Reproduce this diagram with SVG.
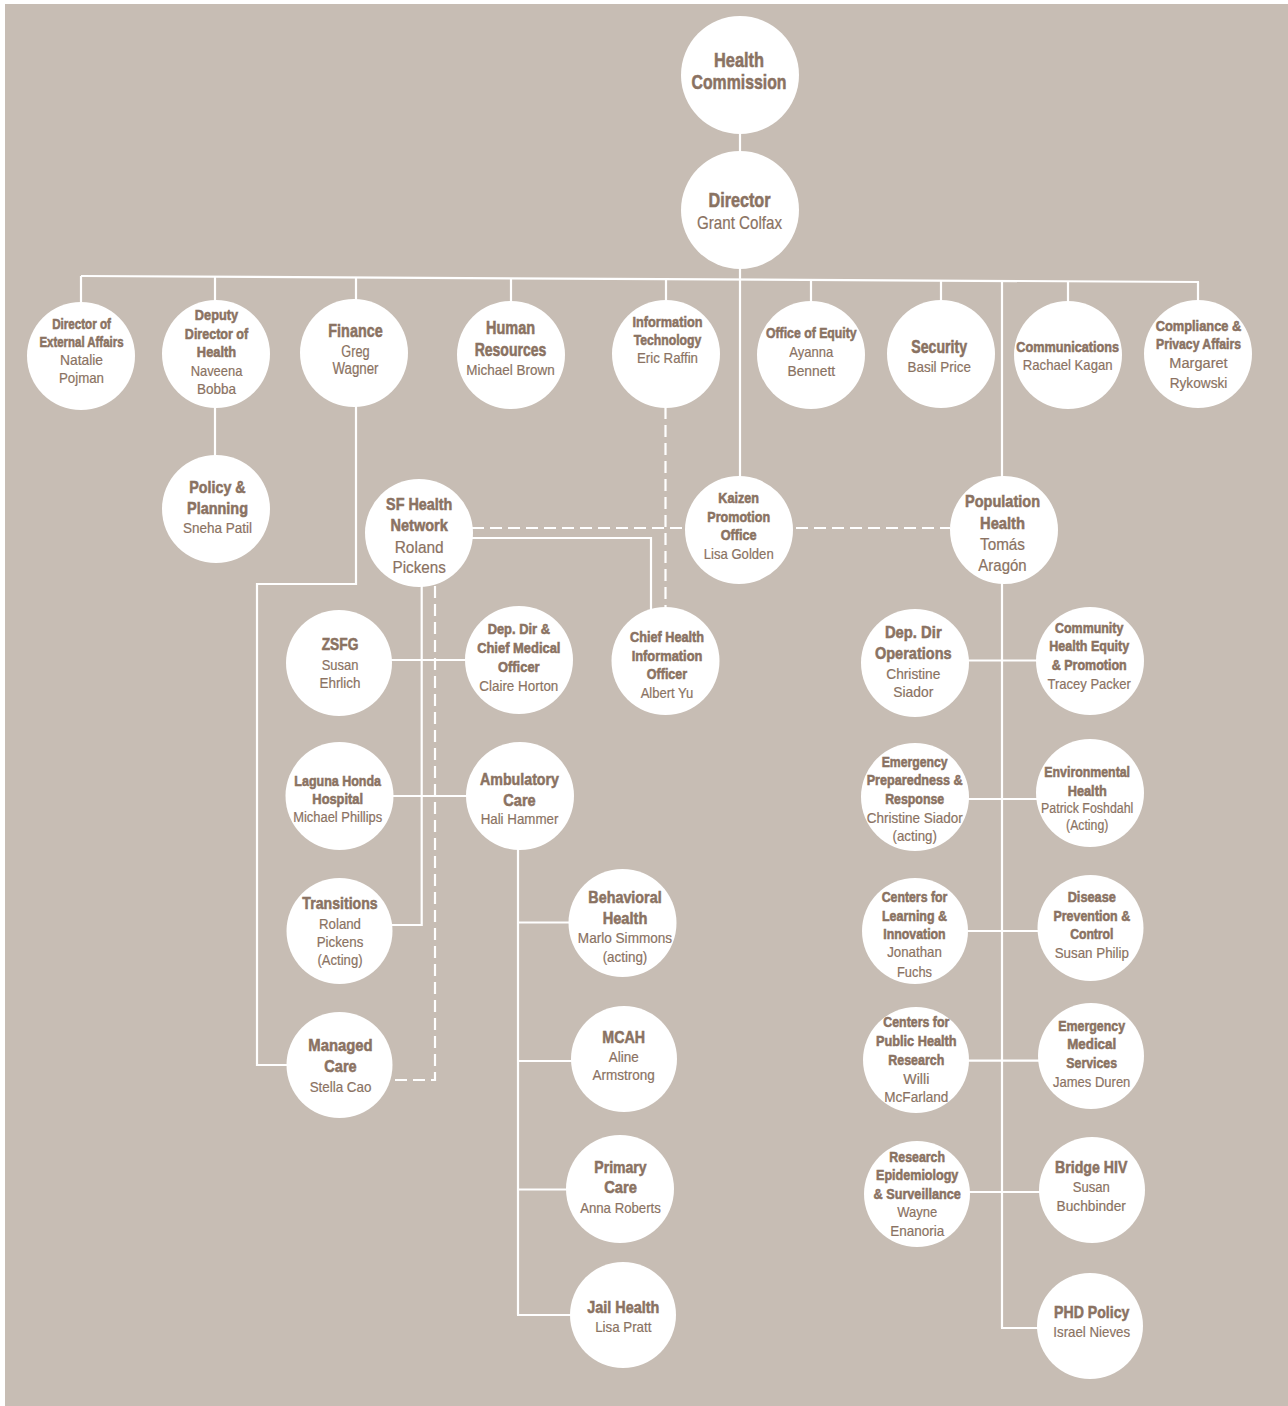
<svg xmlns="http://www.w3.org/2000/svg" width="1288" height="1406" viewBox="0 0 1288 1406">
<style>
.ln{stroke:#ffffff;stroke-width:2.2;fill:none}
.ds{stroke:#ffffff;stroke-width:2.2;fill:none;stroke-dasharray:12 6}
.nd circle{fill:#ffffff}
text{font-family:"Liberation Sans Narrow","Liberation Sans",Arial,sans-serif;fill:#8a7262;text-anchor:middle;stroke:#8a7262;stroke-width:0.2}
.b{font-weight:bold;stroke-width:0.55}
</style>
<rect x="0" y="0" width="1288" height="1406" fill="#ffffff"/>
<rect x="5" y="4" width="1283" height="1402" fill="#c7bdb4"/>
<g id="connectors">
<line class="ln" x1="740" y1="130" x2="740" y2="155"/>
<line class="ln" x1="81" y1="276" x2="1199" y2="282"/>
<line class="ln" x1="81" y1="276" x2="81" y2="305"/>
<line class="ln" x1="215" y1="276.7" x2="215" y2="510"/>
<line class="ln" x1="356" y1="277.5" x2="356" y2="305"/>
<line class="ln" x1="511" y1="278.3" x2="511" y2="305"/>
<line class="ln" x1="666" y1="279.1" x2="666" y2="305"/>
<line class="ln" x1="740" y1="260" x2="740" y2="480"/>
<line class="ln" x1="811" y1="279.9" x2="811" y2="305"/>
<line class="ln" x1="941" y1="280.6" x2="941" y2="305"/>
<line class="ln" x1="1002" y1="280.9" x2="1002" y2="1328"/>
<line class="ln" x1="1068" y1="281.3" x2="1068" y2="305"/>
<line class="ln" x1="1198" y1="282" x2="1198" y2="305"/>
<path class="ln" d="M356,400 V584 H257 V1065 H300"/>
<path class="ln" d="M465,538 H651 V615"/>
<path class="ds" d="M472,528 H950"/>
<path class="ds" d="M665.5,407 V610"/>
<path class="ln" d="M421.7,583 V925 H390"/>
<path class="ds" d="M435,586 V1080 H392"/>
<line class="ln" x1="390" y1="660" x2="468" y2="660"/>
<line class="ln" x1="390" y1="796" x2="468" y2="796"/>
<line class="ln" x1="518" y1="845" x2="518" y2="1315"/>
<line class="ln" x1="517" y1="922.5" x2="572" y2="922.5"/>
<line class="ln" x1="517" y1="1061" x2="574" y2="1061"/>
<line class="ln" x1="517" y1="1189.5" x2="570" y2="1189.5"/>
<line class="ln" x1="517" y1="1315" x2="573" y2="1315"/>
<line class="ln" x1="965" y1="660.5" x2="1040" y2="660.5"/>
<line class="ln" x1="965" y1="799" x2="1040" y2="799"/>
<line class="ln" x1="965" y1="931" x2="1040" y2="931"/>
<line class="ln" x1="965" y1="1060.7" x2="1040" y2="1060.7"/>
<line class="ln" x1="965" y1="1192" x2="1040" y2="1192"/>
<line class="ln" x1="1001" y1="1328" x2="1040" y2="1328"/>
</g>
<g id="hc" class="nd"><circle cx="740" cy="75" r="59"/>
<text class="b" x="739" y="67" font-size="21" textLength="50" lengthAdjust="spacingAndGlyphs">Health</text>
<text class="b" x="739" y="89" font-size="21" textLength="95" lengthAdjust="spacingAndGlyphs">Commission</text></g>
<g id="dir" class="nd"><circle cx="740" cy="210" r="59"/>
<text class="b" x="739.5" y="207" font-size="20.5" textLength="62" lengthAdjust="spacingAndGlyphs">Director</text>
<text x="739.5" y="229" font-size="18.5" textLength="85" lengthAdjust="spacingAndGlyphs">Grant Colfax</text></g>
<g id="ext" class="nd"><circle cx="81" cy="356" r="54"/>
<text class="b" x="81.5" y="329" font-size="14" textLength="58.7" lengthAdjust="spacingAndGlyphs">Director of</text>
<text class="b" x="81.5" y="347" font-size="14" textLength="84" lengthAdjust="spacingAndGlyphs">External Affairs</text>
<text x="81.5" y="365" font-size="15" textLength="43" lengthAdjust="spacingAndGlyphs">Natalie</text>
<text x="81.5" y="383" font-size="15" textLength="45" lengthAdjust="spacingAndGlyphs">Pojman</text></g>
<g id="dep" class="nd"><circle cx="216" cy="354" r="54"/>
<text class="b" x="216.5" y="320" font-size="15" textLength="43.3" lengthAdjust="spacingAndGlyphs">Deputy</text>
<text class="b" x="216.5" y="338.5" font-size="15" textLength="63.3" lengthAdjust="spacingAndGlyphs">Director of</text>
<text class="b" x="216.5" y="356.7" font-size="15" textLength="39.3" lengthAdjust="spacingAndGlyphs">Health</text>
<text x="216.5" y="376" font-size="15" textLength="51.7" lengthAdjust="spacingAndGlyphs">Naveena</text>
<text x="216.5" y="394" font-size="15" textLength="39" lengthAdjust="spacingAndGlyphs">Bobba</text></g>
<g id="fin" class="nd"><circle cx="354" cy="353" r="54"/>
<text class="b" x="355.5" y="336.7" font-size="18.5" textLength="54.3" lengthAdjust="spacingAndGlyphs">Finance</text>
<text x="355.5" y="356.7" font-size="16" textLength="28.3" lengthAdjust="spacingAndGlyphs">Greg</text>
<text x="355.5" y="374" font-size="16" textLength="46" lengthAdjust="spacingAndGlyphs">Wagner</text></g>
<g id="hr" class="nd"><circle cx="511" cy="355" r="54"/>
<text class="b" x="510.5" y="334.3" font-size="17.5" textLength="49" lengthAdjust="spacingAndGlyphs">Human</text>
<text class="b" x="510.5" y="356" font-size="17.5" textLength="71.7" lengthAdjust="spacingAndGlyphs">Resources</text>
<text x="510.5" y="375" font-size="15" textLength="88.3" lengthAdjust="spacingAndGlyphs">Michael Brown</text></g>
<g id="it" class="nd"><circle cx="666" cy="354" r="54"/>
<text class="b" x="667.5" y="326.7" font-size="15.5" textLength="70" lengthAdjust="spacingAndGlyphs">Information</text>
<text class="b" x="667.5" y="345" font-size="15.5" textLength="67.7" lengthAdjust="spacingAndGlyphs">Technology</text>
<text x="667.5" y="363.3" font-size="15" textLength="61" lengthAdjust="spacingAndGlyphs">Eric Raffin</text></g>
<g id="eq" class="nd"><circle cx="811" cy="355" r="54"/>
<text class="b" x="811.3" y="338.3" font-size="15" textLength="90.7" lengthAdjust="spacingAndGlyphs">Office of Equity</text>
<text x="811.3" y="356.7" font-size="15" textLength="44" lengthAdjust="spacingAndGlyphs">Ayanna</text>
<text x="811.3" y="375.7" font-size="15" textLength="47.7" lengthAdjust="spacingAndGlyphs">Bennett</text></g>
<g id="sec" class="nd"><circle cx="941" cy="354" r="54"/>
<text class="b" x="939.2" y="352.7" font-size="17.5" textLength="55.7" lengthAdjust="spacingAndGlyphs">Security</text>
<text x="939.2" y="371.7" font-size="15" textLength="63.3" lengthAdjust="spacingAndGlyphs">Basil Price</text></g>
<g id="com" class="nd"><circle cx="1068" cy="355" r="54"/>
<text class="b" x="1067.7" y="351.7" font-size="15" textLength="102.7" lengthAdjust="spacingAndGlyphs">Communications</text>
<text x="1067.7" y="370" font-size="15" textLength="89.7" lengthAdjust="spacingAndGlyphs">Rachael Kagan</text></g>
<g id="cmp" class="nd"><circle cx="1198" cy="354" r="54"/>
<text class="b" x="1198.5" y="330.7" font-size="15" textLength="85.7" lengthAdjust="spacingAndGlyphs">Compliance &amp;</text>
<text class="b" x="1198.5" y="349.3" font-size="15" textLength="85" lengthAdjust="spacingAndGlyphs">Privacy Affairs</text>
<text x="1198.5" y="368.3" font-size="15.5" textLength="58.3" lengthAdjust="spacingAndGlyphs">Margaret</text>
<text x="1198.5" y="388.3" font-size="15.5" textLength="57.7" lengthAdjust="spacingAndGlyphs">Rykowski</text></g>
<g id="pp" class="nd"><circle cx="216" cy="509" r="54"/>
<text class="b" x="217.5" y="492.7" font-size="17" textLength="56.3" lengthAdjust="spacingAndGlyphs">Policy &amp;</text>
<text class="b" x="217.5" y="514" font-size="17" textLength="61" lengthAdjust="spacingAndGlyphs">Planning</text>
<text x="217.5" y="533.3" font-size="15" textLength="69" lengthAdjust="spacingAndGlyphs">Sneha Patil</text></g>
<g id="sfhn" class="nd"><circle cx="419" cy="533" r="54"/>
<text class="b" x="419.2" y="510" font-size="17" textLength="66.3" lengthAdjust="spacingAndGlyphs">SF Health</text>
<text class="b" x="419.2" y="531" font-size="17" textLength="57.3" lengthAdjust="spacingAndGlyphs">Network</text>
<text x="419.2" y="552.7" font-size="17" textLength="49" lengthAdjust="spacingAndGlyphs">Roland</text>
<text x="419.2" y="573.3" font-size="17" textLength="53.3" lengthAdjust="spacingAndGlyphs">Pickens</text></g>
<g id="kz" class="nd"><circle cx="739" cy="530" r="54"/>
<text class="b" x="738.7" y="503.3" font-size="14.5" textLength="40.7" lengthAdjust="spacingAndGlyphs">Kaizen</text>
<text class="b" x="738.7" y="521.7" font-size="14.5" textLength="62.7" lengthAdjust="spacingAndGlyphs">Promotion</text>
<text class="b" x="738.7" y="540" font-size="14.5" textLength="36" lengthAdjust="spacingAndGlyphs">Office</text>
<text x="738.7" y="559" font-size="15" textLength="70" lengthAdjust="spacingAndGlyphs">Lisa Golden</text></g>
<g id="ph" class="nd"><circle cx="1004" cy="530" r="54"/>
<text class="b" x="1002.5" y="507.3" font-size="17" textLength="75" lengthAdjust="spacingAndGlyphs">Population</text>
<text class="b" x="1002.5" y="529" font-size="17" textLength="45" lengthAdjust="spacingAndGlyphs">Health</text>
<text x="1002.5" y="550" font-size="17" textLength="45" lengthAdjust="spacingAndGlyphs">Tomás</text>
<text x="1002.5" y="571" font-size="17" textLength="48.3" lengthAdjust="spacingAndGlyphs">Aragón</text></g>
<g id="chio" class="nd"><circle cx="665.5" cy="661" r="54"/>
<text class="b" x="667" y="642.3" font-size="14.5" textLength="74" lengthAdjust="spacingAndGlyphs">Chief Health</text>
<text class="b" x="667" y="661" font-size="14.5" textLength="70.7" lengthAdjust="spacingAndGlyphs">Information</text>
<text class="b" x="667" y="679.3" font-size="14.5" textLength="40.3" lengthAdjust="spacingAndGlyphs">Officer</text>
<text x="667" y="697.7" font-size="15" textLength="52.7" lengthAdjust="spacingAndGlyphs">Albert Yu</text></g>
<g id="zsfg" class="nd"><circle cx="339" cy="663" r="53"/>
<text class="b" x="340" y="650" font-size="17" textLength="36.7" lengthAdjust="spacingAndGlyphs">ZSFG</text>
<text x="340" y="670" font-size="15" textLength="36.7" lengthAdjust="spacingAndGlyphs">Susan</text>
<text x="340" y="687.7" font-size="15" textLength="41" lengthAdjust="spacingAndGlyphs">Ehrlich</text></g>
<g id="cmo" class="nd"><circle cx="519" cy="660" r="54"/>
<text class="b" x="518.8" y="634.3" font-size="14.5" textLength="62.3" lengthAdjust="spacingAndGlyphs">Dep. Dir &amp;</text>
<text class="b" x="518.8" y="653.3" font-size="14.5" textLength="83.3" lengthAdjust="spacingAndGlyphs">Chief Medical</text>
<text class="b" x="518.8" y="671.7" font-size="14.5" textLength="41.7" lengthAdjust="spacingAndGlyphs">Officer</text>
<text x="518.8" y="690.7" font-size="15" textLength="79" lengthAdjust="spacingAndGlyphs">Claire Horton</text></g>
<g id="ops" class="nd"><circle cx="915" cy="663" r="54"/>
<text class="b" x="913.3" y="638.3" font-size="17" textLength="56.7" lengthAdjust="spacingAndGlyphs">Dep. Dir</text>
<text class="b" x="913.3" y="659.3" font-size="17" textLength="76.7" lengthAdjust="spacingAndGlyphs">Operations</text>
<text x="913.3" y="679.3" font-size="15" textLength="54" lengthAdjust="spacingAndGlyphs">Christine</text>
<text x="913.3" y="697.3" font-size="15" textLength="40" lengthAdjust="spacingAndGlyphs">Siador</text></g>
<g id="chep" class="nd"><circle cx="1090" cy="661" r="54"/>
<text class="b" x="1089.2" y="632.7" font-size="14.5" textLength="68.3" lengthAdjust="spacingAndGlyphs">Community</text>
<text class="b" x="1089.2" y="651" font-size="14.5" textLength="80" lengthAdjust="spacingAndGlyphs">Health Equity</text>
<text class="b" x="1089.2" y="670" font-size="14.5" textLength="75" lengthAdjust="spacingAndGlyphs">&amp; Promotion</text>
<text x="1089.2" y="688.7" font-size="15" textLength="83.3" lengthAdjust="spacingAndGlyphs">Tracey Packer</text></g>
<g id="lhh" class="nd"><circle cx="339.5" cy="796" r="54"/>
<text class="b" x="337.7" y="785.7" font-size="14.5" textLength="86.7" lengthAdjust="spacingAndGlyphs">Laguna Honda</text>
<text class="b" x="337.7" y="804.3" font-size="14.5" textLength="50.7" lengthAdjust="spacingAndGlyphs">Hospital</text>
<text x="337.7" y="821.7" font-size="14" textLength="89" lengthAdjust="spacingAndGlyphs">Michael Phillips</text></g>
<g id="amb" class="nd"><circle cx="520" cy="796" r="54"/>
<text class="b" x="519.5" y="785" font-size="17" textLength="79" lengthAdjust="spacingAndGlyphs">Ambulatory</text>
<text class="b" x="519.5" y="805.7" font-size="17" textLength="32.3" lengthAdjust="spacingAndGlyphs">Care</text>
<text x="519.5" y="824.3" font-size="15" textLength="77.7" lengthAdjust="spacingAndGlyphs">Hali Hammer</text></g>
<g id="epr" class="nd"><circle cx="915" cy="797" r="54"/>
<text class="b" x="914.7" y="766.7" font-size="14.5" textLength="66" lengthAdjust="spacingAndGlyphs">Emergency</text>
<text class="b" x="914.7" y="785.3" font-size="14.5" textLength="96" lengthAdjust="spacingAndGlyphs">Preparedness &amp;</text>
<text class="b" x="914.7" y="804" font-size="14.5" textLength="59" lengthAdjust="spacingAndGlyphs">Response</text>
<text x="914.7" y="822.7" font-size="15" textLength="96" lengthAdjust="spacingAndGlyphs">Christine Siador</text>
<text x="914.7" y="840.7" font-size="15" textLength="44.3" lengthAdjust="spacingAndGlyphs">(acting)</text></g>
<g id="env" class="nd"><circle cx="1090" cy="793" r="54"/>
<text class="b" x="1087.2" y="777.3" font-size="14.5" textLength="85.7" lengthAdjust="spacingAndGlyphs">Environmental</text>
<text class="b" x="1087.2" y="795.7" font-size="14.5" textLength="39" lengthAdjust="spacingAndGlyphs">Health</text>
<text x="1087.2" y="813.3" font-size="14" textLength="92.3" lengthAdjust="spacingAndGlyphs">Patrick Foshdahl</text>
<text x="1087.2" y="830" font-size="14" textLength="42.3" lengthAdjust="spacingAndGlyphs">(Acting)</text></g>
<g id="trn" class="nd"><circle cx="339.5" cy="931" r="53"/>
<text class="b" x="340" y="909.3" font-size="17" textLength="75.3" lengthAdjust="spacingAndGlyphs">Transitions</text>
<text x="340" y="929.3" font-size="15" textLength="42" lengthAdjust="spacingAndGlyphs">Roland</text>
<text x="340" y="946.7" font-size="15" textLength="46.7" lengthAdjust="spacingAndGlyphs">Pickens</text>
<text x="340" y="965" font-size="15" textLength="45" lengthAdjust="spacingAndGlyphs">(Acting)</text></g>
<g id="bh" class="nd"><circle cx="622.5" cy="923" r="54"/>
<text class="b" x="625" y="903.3" font-size="17" textLength="73.3" lengthAdjust="spacingAndGlyphs">Behavioral</text>
<text class="b" x="625" y="924.3" font-size="17" textLength="44.7" lengthAdjust="spacingAndGlyphs">Health</text>
<text x="625" y="943.3" font-size="15" textLength="94.3" lengthAdjust="spacingAndGlyphs">Marlo Simmons</text>
<text x="625" y="961.7" font-size="15" textLength="44.7" lengthAdjust="spacingAndGlyphs">(acting)</text></g>
<g id="cli" class="nd"><circle cx="915" cy="931" r="53"/>
<text class="b" x="914.5" y="901.7" font-size="14.5" textLength="65.7" lengthAdjust="spacingAndGlyphs">Centers for</text>
<text class="b" x="914.5" y="920.7" font-size="14.5" textLength="65" lengthAdjust="spacingAndGlyphs">Learning &amp;</text>
<text class="b" x="914.5" y="939.3" font-size="14.5" textLength="62.3" lengthAdjust="spacingAndGlyphs">Innovation</text>
<text x="914.5" y="957.3" font-size="15" textLength="54.7" lengthAdjust="spacingAndGlyphs">Jonathan</text>
<text x="914.5" y="976.7" font-size="15" textLength="35" lengthAdjust="spacingAndGlyphs">Fuchs</text></g>
<g id="dpc" class="nd"><circle cx="1090.5" cy="928" r="53"/>
<text class="b" x="1091.8" y="901.7" font-size="14.5" textLength="48.3" lengthAdjust="spacingAndGlyphs">Disease</text>
<text class="b" x="1091.8" y="920.7" font-size="14.5" textLength="76.7" lengthAdjust="spacingAndGlyphs">Prevention &amp;</text>
<text class="b" x="1091.8" y="939.3" font-size="14.5" textLength="43.3" lengthAdjust="spacingAndGlyphs">Control</text>
<text x="1091.8" y="957.7" font-size="15" textLength="74.3" lengthAdjust="spacingAndGlyphs">Susan Philip</text></g>
<g id="mc" class="nd"><circle cx="339.5" cy="1065" r="53"/>
<text class="b" x="340.5" y="1050.7" font-size="17" textLength="64.3" lengthAdjust="spacingAndGlyphs">Managed</text>
<text class="b" x="340.5" y="1071.7" font-size="17" textLength="32.3" lengthAdjust="spacingAndGlyphs">Care</text>
<text x="340.5" y="1091.7" font-size="15" textLength="61.7" lengthAdjust="spacingAndGlyphs">Stella Cao</text></g>
<g id="mcah" class="nd"><circle cx="624" cy="1059" r="53"/>
<text class="b" x="623.7" y="1042.7" font-size="17" textLength="42.7" lengthAdjust="spacingAndGlyphs">MCAH</text>
<text x="623.7" y="1061.7" font-size="15" textLength="30" lengthAdjust="spacingAndGlyphs">Aline</text>
<text x="623.7" y="1080" font-size="15" textLength="62.3" lengthAdjust="spacingAndGlyphs">Armstrong</text></g>
<g id="cphr" class="nd"><circle cx="916" cy="1060" r="53"/>
<text class="b" x="916.3" y="1027.3" font-size="14.5" textLength="66" lengthAdjust="spacingAndGlyphs">Centers for</text>
<text class="b" x="916.3" y="1046" font-size="14.5" textLength="80.7" lengthAdjust="spacingAndGlyphs">Public Health</text>
<text class="b" x="916.3" y="1065" font-size="14.5" textLength="56" lengthAdjust="spacingAndGlyphs">Research</text>
<text x="916.3" y="1084" font-size="15" textLength="26" lengthAdjust="spacingAndGlyphs">Willi</text>
<text x="916.3" y="1101.7" font-size="15" textLength="64" lengthAdjust="spacingAndGlyphs">McFarland</text></g>
<g id="ems" class="nd"><circle cx="1091" cy="1056" r="53"/>
<text class="b" x="1091.7" y="1030.7" font-size="14.5" textLength="66.7" lengthAdjust="spacingAndGlyphs">Emergency</text>
<text class="b" x="1091.7" y="1049.3" font-size="14.5" textLength="49" lengthAdjust="spacingAndGlyphs">Medical</text>
<text class="b" x="1091.7" y="1068.3" font-size="14.5" textLength="50.7" lengthAdjust="spacingAndGlyphs">Services</text>
<text x="1091.7" y="1086.7" font-size="15" textLength="77.3" lengthAdjust="spacingAndGlyphs">James Duren</text></g>
<g id="pc" class="nd"><circle cx="620" cy="1189" r="54"/>
<text class="b" x="620.5" y="1172.7" font-size="17" textLength="52.3" lengthAdjust="spacingAndGlyphs">Primary</text>
<text class="b" x="620.5" y="1193.3" font-size="17" textLength="32.7" lengthAdjust="spacingAndGlyphs">Care</text>
<text x="620.5" y="1212.7" font-size="15" textLength="80.7" lengthAdjust="spacingAndGlyphs">Anna Roberts</text></g>
<g id="res" class="nd"><circle cx="917" cy="1194" r="53"/>
<text class="b" x="917.2" y="1161.7" font-size="14.5" textLength="55.7" lengthAdjust="spacingAndGlyphs">Research</text>
<text class="b" x="917.2" y="1180" font-size="14.5" textLength="82.3" lengthAdjust="spacingAndGlyphs">Epidemiology</text>
<text class="b" x="917.2" y="1199" font-size="14.5" textLength="87.3" lengthAdjust="spacingAndGlyphs">&amp; Surveillance</text>
<text x="917.2" y="1216.7" font-size="15" textLength="40" lengthAdjust="spacingAndGlyphs">Wayne</text>
<text x="917.2" y="1235.7" font-size="15" textLength="54" lengthAdjust="spacingAndGlyphs">Enanoria</text></g>
<g id="bhiv" class="nd"><circle cx="1092" cy="1190" r="53"/>
<text class="b" x="1091.2" y="1173.3" font-size="17" textLength="72.3" lengthAdjust="spacingAndGlyphs">Bridge HIV</text>
<text x="1091.2" y="1191.7" font-size="15" textLength="37" lengthAdjust="spacingAndGlyphs">Susan</text>
<text x="1091.2" y="1210.7" font-size="15" textLength="69.3" lengthAdjust="spacingAndGlyphs">Buchbinder</text></g>
<g id="jh" class="nd"><circle cx="623" cy="1315" r="53"/>
<text class="b" x="623.3" y="1312.7" font-size="17" textLength="72" lengthAdjust="spacingAndGlyphs">Jail Health</text>
<text x="623.3" y="1331.7" font-size="15" textLength="56.3" lengthAdjust="spacingAndGlyphs">Lisa Pratt</text></g>
<g id="phd" class="nd"><circle cx="1090" cy="1326" r="53"/>
<text class="b" x="1091.7" y="1318.3" font-size="17" textLength="75.3" lengthAdjust="spacingAndGlyphs">PHD Policy</text>
<text x="1091.7" y="1336.7" font-size="15" textLength="76.7" lengthAdjust="spacingAndGlyphs">Israel Nieves</text></g>
</svg>
